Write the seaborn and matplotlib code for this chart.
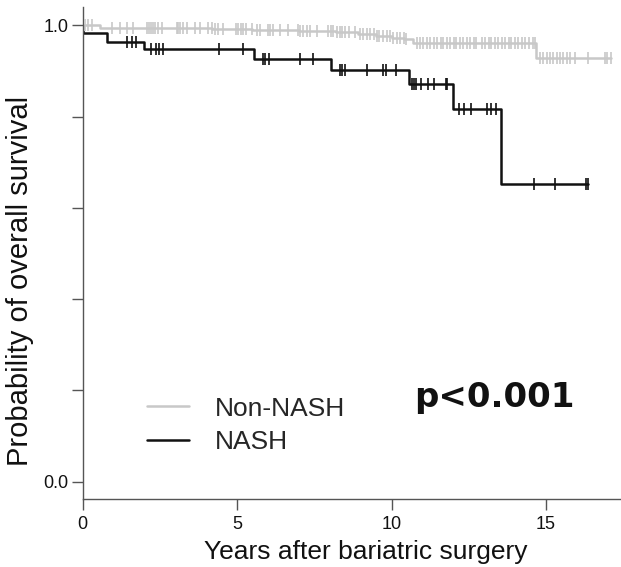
import numpy as np
import pandas as pd
import matplotlib
matplotlib.use("Agg")
import matplotlib.pyplot as plt
import seaborn as sns
from matplotlib.lines import Line2D

# ---------------- data ----------------
groups = ["Non-NASH", "NASH"]

non_nash_times = [0.0, 0.57, 2.5, 4.2, 5.5, 7.0, 8.2, 8.9, 9.5, 10.0, 10.4, 10.7, 14.68, 17.1]
non_nash_surv = [1.0, 0.995, 0.993, 0.991, 0.989, 0.987, 0.985, 0.981, 0.977, 0.973, 0.969, 0.962, 0.929, 0.929]

nash_times = [0.0, 0.02, 0.79, 1.99, 5.55, 8.04, 10.56, 11.99, 13.54, 16.36]
nash_surv = [1.0, 0.983, 0.964, 0.947, 0.927, 0.903, 0.871, 0.816, 0.652, 0.652]

non_nash_censor = [0.08, 0.19, 0.30, 0.94, 1.21, 1.43, 1.64, 2.08, 2.16, 2.21, 2.27, 2.35, 2.45, 2.56,
                   3.05, 3.10, 3.16, 3.26, 3.37, 3.64, 3.80, 4.07, 4.18, 4.29, 4.39, 4.56, 4.97, 5.04,
                   5.12, 5.20, 5.29, 5.48, 5.64, 5.74, 6.01, 6.07, 6.17, 6.39, 6.66, 6.98, 7.04, 7.14,
                   7.25, 7.36, 7.58, 7.95, 8.03, 8.12, 8.23, 8.33, 8.39, 8.50, 8.64, 8.83, 8.97, 9.09,
                   9.22, 9.30, 9.43, 9.52, 9.61, 9.74, 9.84, 9.96, 10.05, 10.18, 10.27, 10.39, 10.48,
                   10.84, 10.93, 11.02, 11.15, 11.24, 11.37, 11.46, 11.59, 11.67, 11.80, 11.88, 12.01,
                   12.10, 12.23, 12.32, 12.45, 12.53, 12.66, 12.75, 12.92, 13.03, 13.14, 13.23, 13.36,
                   13.45, 13.58, 13.66, 13.79, 13.88, 14.01, 14.10, 14.22, 14.31, 14.44, 14.58, 14.64,
                   14.81, 14.91, 15.02, 15.13, 15.24, 15.35, 15.45, 15.56, 15.67, 15.78, 15.94, 16.37,
                   16.91, 16.96, 17.1]

nash_censor = [1.45, 1.61, 1.74, 2.23, 2.37, 2.48, 2.61, 4.42, 5.20, 5.85, 5.92, 6.02, 7.05, 7.47,
               8.32, 8.40, 8.51, 9.21, 9.73, 9.81, 10.13, 10.67, 10.72, 10.78, 10.96, 11.19, 11.37,
               11.75, 11.80, 12.18, 12.35, 12.56, 13.10, 13.21, 13.38, 14.60, 15.29, 16.30, 16.36]

p_text = "p<0.001"
x_ticks = [0, 5, 10, 15]
y_ticks = [0.0, 0.2, 0.4, 0.6, 0.8, 1.0]
y_ticklabels = ["0.0", "", "", "", "", "1.0"]
x_label = "Years after bariatric surgery"
y_label = "Probability of overall survival"

# ---------------- frames ----------------
curve_df = pd.concat([
    pd.DataFrame({"time": non_nash_times, "surv": non_nash_surv, "group": groups[0]}),
    pd.DataFrame({"time": nash_times, "surv": nash_surv, "group": groups[1]}),
], ignore_index=True)


def step_value(times, surv, t):
    idx = np.searchsorted(np.asarray(times), t, side="right") - 1
    return np.asarray(surv)[idx]


cens_df = pd.concat([
    pd.DataFrame({"time": non_nash_censor,
                  "surv": step_value(non_nash_times, non_nash_surv, np.array(non_nash_censor)),
                  "group": groups[0]}),
    pd.DataFrame({"time": nash_censor,
                  "surv": step_value(nash_times, nash_surv, np.array(nash_censor)),
                  "group": groups[1]}),
], ignore_index=True)

palette = {"Non-NASH": "#c8c8c8", "NASH": "#111111"}

# ---------------- plot ----------------
sns.set_style("white")
plt.rcParams["font.family"] = ["Liberation Sans", "DejaVu Sans"]

W, H = 621, 567
fig = plt.figure(figsize=(W / 100, H / 100), dpi=100)
ax_left, ax_right = 82.5, 621
ax_top, ax_bottom = 7, 499.3
ax_w, ax_h = ax_right - ax_left, ax_bottom - ax_top
ax = fig.add_axes([ax_left / W, 1 - ax_bottom / H, ax_w / W, ax_h / H])

sns.lineplot(data=curve_df, x="time", y="surv", hue="group", palette=palette,
             hue_order=groups, drawstyle="steps-post", linewidth=1.8, legend=False,
             estimator=None, sort=False, ax=ax)
for g in groups:
    sub = cens_df[cens_df.group == g]
    sns.scatterplot(data=sub, x="time", y="surv", marker="|", s=75, color=palette[g],
                    linewidth=1.2, legend=False, ax=ax, zorder=3)

ax.set_xlim(0, ax_w / 30.9)
ax.set_ylim(-0.0386, 1.04)
ax.set_xticks(x_ticks)
ax.set_xticklabels([str(t) for t in x_ticks])
ax.set_yticks(y_ticks)
ax.set_yticklabels(y_ticklabels)

for side in ["top", "right"]:
    ax.spines[side].set_visible(False)
for side in ["left", "bottom"]:
    ax.spines[side].set_color("#555555")
    ax.spines[side].set_linewidth(1.0)

ax.tick_params(axis="both", which="both", direction="out", length=8, width=1.0,
               color="#555555", labelsize=13, labelcolor="#111111", left=True, bottom=True)
ax.tick_params(axis="x", pad=4)
ax.tick_params(axis="y", pad=2)

ax.set_xlabel(x_label, fontsize=19, color="#111111")
ax.set_ylabel(y_label, fontsize=21, color="#111111")
# label centres in axes-fraction coordinates
ax.xaxis.set_label_coords((366 - ax_left) / ax_w, -(552 - ax_bottom) / ax_h)
ax.yaxis.set_label_coords(-(ax_left - 20) / ax_w, (ax_bottom - 281) / ax_h)
ax.xaxis.label.set_va("center")
ax.yaxis.label.set_va("center")

handles = [Line2D([0], [0], color=palette[g], lw=1.8) for g in groups]
leg = ax.legend(handles, groups, loc="upper left", bbox_to_anchor=(136 / W, 1 - 386 / H),
                bbox_transform=fig.transFigure, frameon=False, fontsize=19,
                handlelength=1.6, handletextpad=1.0, labelspacing=0.35, borderaxespad=0)

fig.text(494 / W, 1 - 398 / H, p_text, fontsize=24.5, fontweight="bold",
         family="DejaVu Sans", ha="center", va="center", color="#111111")

fig.savefig("out.png", dpi=100)
